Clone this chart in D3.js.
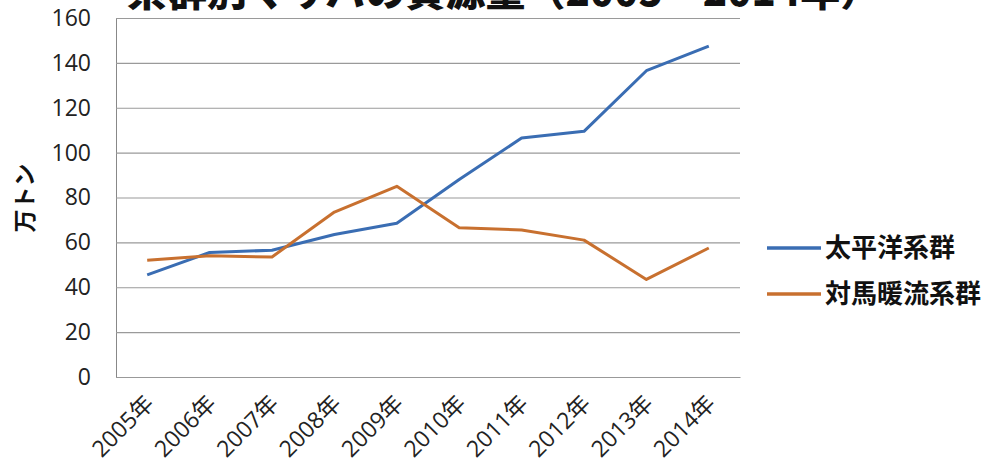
<!DOCTYPE html>
<html><head><meta charset="utf-8">
<script src="https://cdn.jsdelivr.net/npm/d3@7/dist/d3.min.js"></script>
<style>
html,body{margin:0;padding:0;background:#fff;}
svg{display:block;}
</style></head>
<body>
<svg id="chart" width="987" height="470"></svg>
<script>
const title = "系群別マサバの資源量（2005～2014年）";
const years = ["2005年","2006年","2007年","2008年","2009年","2010年","2011年","2012年","2013年","2014年"];
const pacific = [45.5, 55.5, 56.5, 63.5, 68.5, 88, 106.5, 109.5, 136.5, 147.5];
const tsushima = [52, 54, 53.5, 73.5, 85, 66.5, 65.5, 61, 43.5, 57.5];
const seriesNames = ["太平洋系群", "対馬暖流系群"];
const seriesColors = ["#3a6db3", "#c8702f"];
const yTicks = [0, 20, 40, 60, 80, 100, 120, 140, 160];
const yLabel = "万トン";

const svg = d3.select("#chart");
const pLeft = 116, pRight = 740, pTop = 18, pBottom = 377;
const x = d3.scaleBand().domain(years).range([pLeft, pRight]);
const y = d3.scaleLinear().domain([0, 160]).range([pBottom, pTop]);
const jp = "'Noto Sans CJK JP', sans-serif";
const num = "'Open Sans', 'Noto Sans CJK JP', sans-serif";

// title (cut off at top)
svg.append("text").attr("x", 127).attr("y", 6)
  .attr("font-family", jp).attr("font-weight", 900).attr("font-size", 40)
  .attr("fill", "#111").text(title);

// gridlines
const yAxis = d3.axisLeft(y).tickValues(yTicks).tickSize(-(pRight - pLeft)).tickPadding(25);
const gy = svg.append("g").attr("transform", `translate(${pLeft},0)`).call(yAxis);
gy.select(".domain").attr("stroke", "#888");
gy.selectAll(".tick line").attr("stroke", "#9a9a9a").attr("stroke-width", 1.2);
gy.selectAll(".tick text").attr("font-family", num).attr("font-size", 23).attr("fill", "#222");

// x axis
const xAxis = d3.axisBottom(x).tickSize(0).tickPadding(0);
const gx = svg.append("g").attr("transform", `translate(0,${pBottom})`).call(xAxis);
gx.select(".domain").attr("stroke", "#999");
gx.selectAll(".tick text")
  .attr("font-family", num).attr("font-size", 23).attr("fill", "#222")
  .attr("text-anchor", "end")
  .attr("dy", null)
  .attr("transform", "translate(8,28) rotate(-45)");

// y label
svg.append("text").attr("transform", "translate(33,198) rotate(-90)")
  .attr("text-anchor", "middle").attr("font-family", jp).attr("font-weight", 700)
  .attr("font-size", 23).attr("fill", "#111").text(yLabel);

// lines
const line = d3.line().x((d, i) => x(years[i]) + x.bandwidth() / 2).y(d => y(d));
[pacific, tsushima].forEach((s, k) => {
  svg.append("path").datum(s).attr("d", line).attr("fill", "none")
    .attr("stroke", seriesColors[k]).attr("stroke-width", 3).attr("stroke-linejoin", "round");
});

// legend
const legY = [248, 294];
seriesNames.forEach((n, k) => {
  svg.append("line").attr("x1", 767).attr("x2", 821).attr("y1", legY[k]).attr("y2", legY[k])
    .attr("stroke", seriesColors[k]).attr("stroke-width", 3.5);
  svg.append("text").attr("x", 825).attr("y", legY[k]).attr("dy", "0.36em")
    .attr("font-family", jp).attr("font-weight", 700).attr("font-size", 26)
    .attr("fill", "#111").text(n);
});
</script>
</body></html>
